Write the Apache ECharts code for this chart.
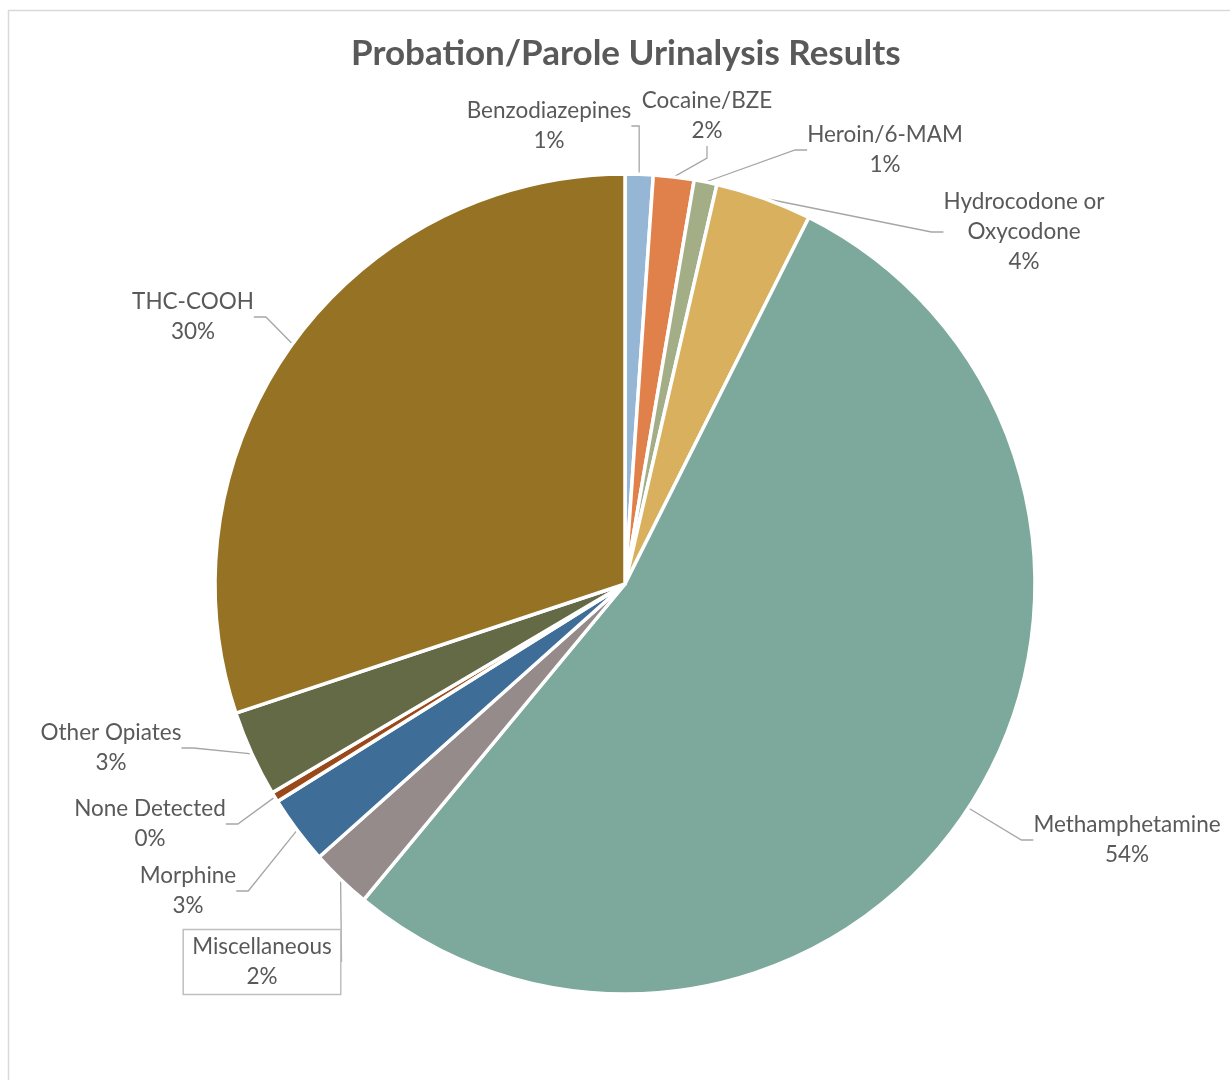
<!DOCTYPE html>
<html>
<head>
<meta charset="utf-8">
<title>Probation/Parole Urinalysis Results</title>
<script src="https://cdn.jsdelivr.net/npm/echarts@6/dist/echarts.min.js"></script>
<style>
  html, body { margin: 0; padding: 0; background: #ffffff; }
  #chart { width: 1230px; height: 1080px; }
</style>
</head>
<body>
<div id="chart"></div>
<script>
// Substances detected, clockwise from 12 o'clock
const categories = [
  'Benzodiazepines',
  'Cocaine/BZE',
  'Heroin/6-MAM',
  'Hydrocodone or Oxycodone',
  'Methamphetamine',
  'Miscellaneous',
  'Morphine',
  'None Detected',
  'Other Opiates',
  'THC-COOH'
];

// Share of positive results (percent)
const shares = [1.1, 1.6, 0.9, 3.8, 53.6, 2.4, 2.7, 0.4, 3.4, 30.1];

const sliceColors = [
  '#95B6D5', '#E0804A', '#A3AE87', '#D9B15E', '#7DA89C',
  '#958B8A', '#3E6D98', '#9A4A1A', '#656A46', '#967224'
];

// Where each data label sits (centre of the text block)
const labelAnchors = [
  [549, 126], [707, 116], [885, 150], [1024, 232], [1127, 840],
  [262, 962], [188, 891], [150, 824], [111, 748], [193, 317]
];

const chart = echarts.init(document.getElementById('chart'));

const textColor = '#595959';
const fontFamily = 'Lato, "Open Sans", sans-serif';

const data = categories.map((name, i) => {
  const item = { name: name, value: shares[i], itemStyle: { color: sliceColors[i] } };
  if (name === 'Miscellaneous') {
    item.label = { borderColor: '#BFBFBF', borderWidth: 1.5, padding: [3, 9, 2, 9] };
  }
  return item;
});

chart.setOption({
  backgroundColor: '#ffffff',
  animation: false,
  title: {
    text: 'Probation/Parole Urinalysis Results',
    // sits centred over the pie rather than the canvas
    left: 346,
    top: 31,
    padding: 5,
    textStyle: { color: textColor, fontFamily: fontFamily, fontWeight: 'bold', fontSize: 35 }
  },
  graphic: [{
    type: 'rect',
    silent: true,
    shape: { x: 8.5, y: 10.5, width: 1400, height: 1200 },
    style: { fill: 'none', stroke: '#D9D9D9', lineWidth: 1.5 }
  }],
  series: [{
    type: 'pie',
    center: [625, 584],
    radius: 410,
    startAngle: 90,
    clockwise: true,
    data: data,
    itemStyle: { borderColor: '#ffffff', borderWidth: 3.5 },
    label: {
      show: true,
      color: textColor,
      fontFamily: fontFamily,
      fontSize: 22.5,
      lineHeight: 30,
      align: 'center',
      formatter: p => p.name.replace(' or ', ' or\n') + '\n' + Math.round(p.percent) + '%'
    },
    labelLine: {
      show: true,
      length: 12,
      length2: 12,
      lineStyle: { color: '#A6A6A6', width: 1.3 }
    },
    labelLayout: params => {
      const a = labelAnchors[params.dataIndex];
      return { x: a[0], y: a[1], align: 'center', verticalAlign: 'middle' };
    }
  }]
});
</script>
</body>
</html>
